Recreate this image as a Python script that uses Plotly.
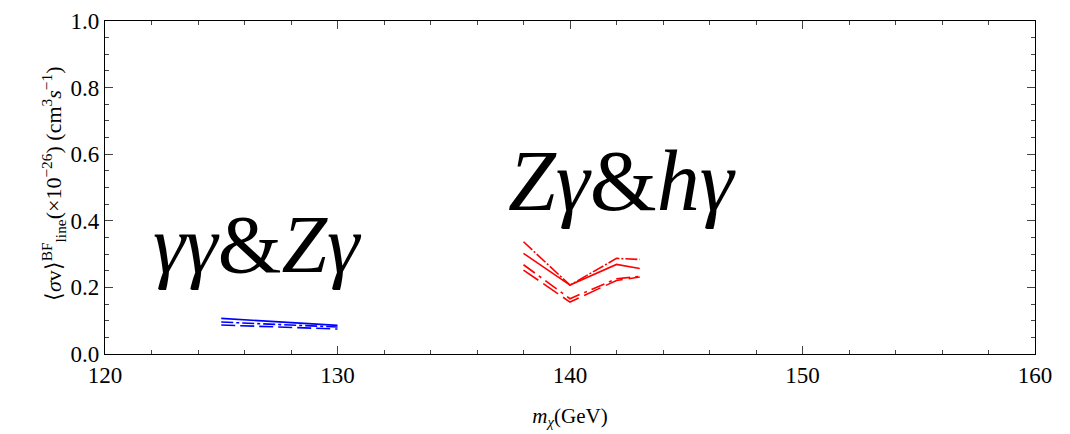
import plotly.graph_objects as go

# Blue: gamma gamma & Z gamma
blue_mass = [125, 130]
blue_solid = [0.107, 0.086]
blue_dashdot = [0.096, 0.081]
blue_dash = [0.087, 0.075]

# Red: Z gamma & h gamma
red_mass = [138, 140, 142, 143]
red_top = [0.337, 0.207, 0.287, 0.284]
red_solid = [0.302, 0.207, 0.269, 0.257]
red_dashdot = [0.268, 0.166, 0.226, 0.233]
red_longdash = [0.252, 0.156, 0.221, 0.231]

x_ticks = [120, 130, 140, 150, 160]
y_ticks = [0.0, 0.2, 0.4, 0.6, 0.8, 1.0]

fig = go.Figure()

def add(x, y, color, dash):
    fig.add_trace(go.Scatter(x=x, y=y, mode="lines",
                             line=dict(color=color, width=1.6, dash=dash),
                             showlegend=False, hoverinfo="skip"))

add(blue_mass, blue_solid, "#0000ff", "solid")
add(blue_mass, blue_dashdot, "#0000ff", "12px,3px,3px,3px")
add(blue_mass, blue_dash, "#0000ff", "14px,5px")

add(red_mass, red_top, "#ff0000", "12px,2px,2px,2px")
add(red_mass, red_solid, "#ff0000", "solid")
add(red_mass, red_dashdot, "#ff0000", "14px,5px,3px,5px")
add(red_mass, red_longdash, "#ff0000", "18px,6px")

font_family = "Liberation Serif, Times New Roman, serif"

fig.add_annotation(x=126.55, y=0.33, text="<i>γγ</i>&amp;<i>Zγ</i>", showarrow=False,
                   font=dict(family="Liberation Serif", size=82, color="black"))
fig.add_annotation(x=142.25, y=0.52, text="<i>Zγ</i>&amp;<i>hγ</i>", showarrow=False,
                   font=dict(family="Liberation Serif", size=86, color="black"))

# y-axis title as rotated annotation
fig.add_annotation(xref="paper", yref="paper", x=-0.056, y=0.513, textangle=-90,
                   text="⟨<i>σ</i>v⟩<sup>BF</sup><sub>line</sub>(×10<sup>−26</sup>) (cm<sup>3</sup><i>s</i><sup>−1</sup>)",
                   showarrow=False, xanchor="center", yanchor="middle",
                   font=dict(family=font_family, size=22, color="black"))

axis_common = dict(
    showgrid=False, zeroline=False, showline=True, linecolor="black", linewidth=1.2,
    mirror="ticks", ticks="inside", ticklen=8, tickcolor="#444", tickwidth=1,
    tickfont=dict(family=font_family, size=23, color="black"), automargin=False,
)

fig.update_xaxes(range=[120, 160], tickvals=x_ticks,
                 minor=dict(dtick=2, ticks="inside", ticklen=4, tickcolor="#444"),
                 title=dict(text="<i>m<sub>χ</sub></i>(GeV)", font=dict(family=font_family, size=21, color="black"),
                            standoff=21),
                 **axis_common)
fig.update_yaxes(range=[0, 1], tickvals=y_ticks, tickformat=".1f",
                 minor=dict(dtick=0.05, ticks="inside", ticklen=4, tickcolor="#444"),
                 **axis_common)

fig.update_layout(width=1062, height=426, paper_bgcolor="white", plot_bgcolor="white",
                  margin=dict(l=97, r=35, t=13, b=80))

fig.write_html("out.html")
